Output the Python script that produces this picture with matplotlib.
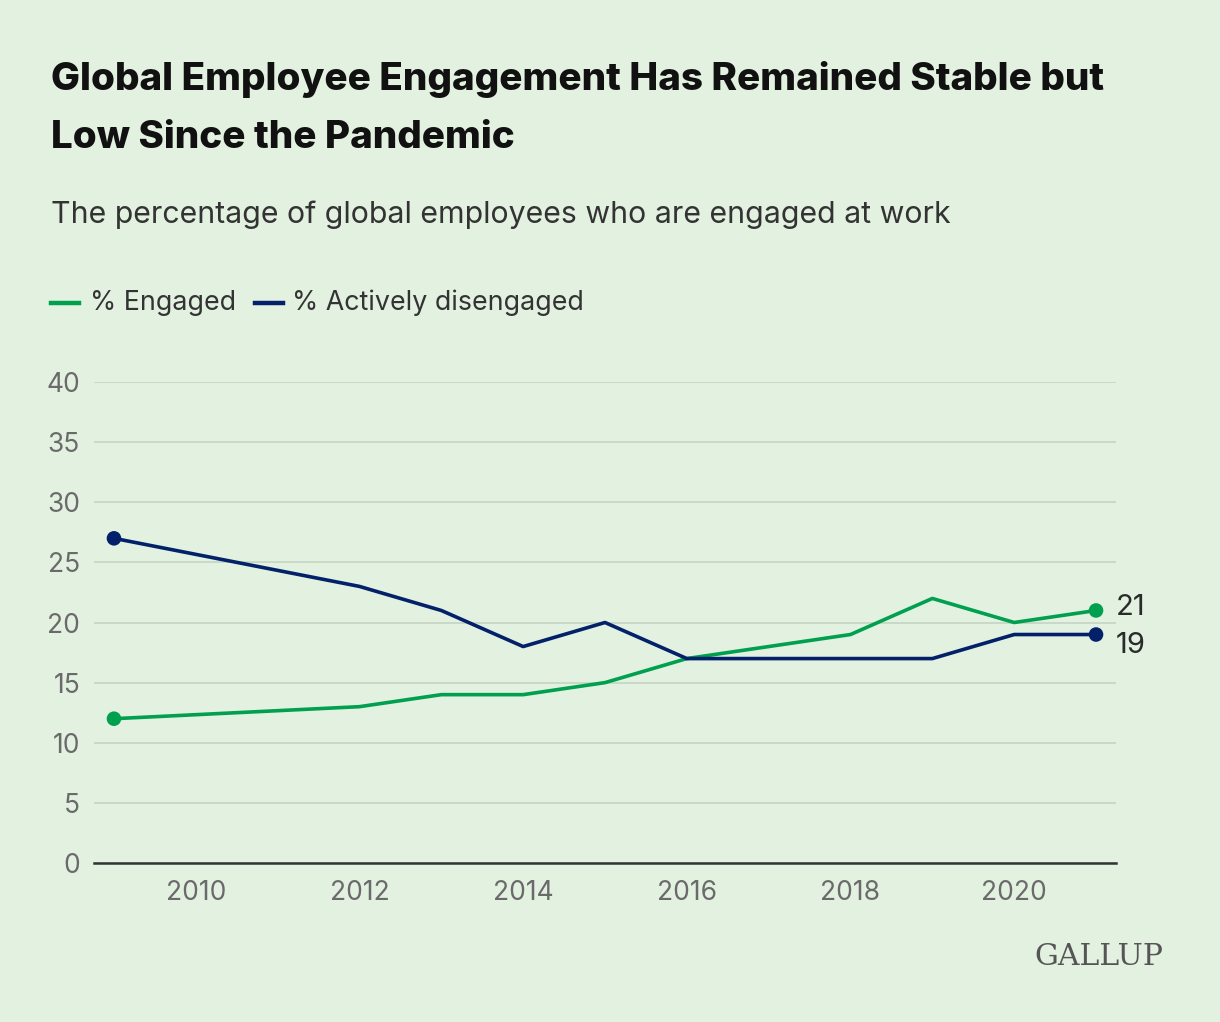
import matplotlib.pyplot as plt

years_engaged = [2009, 2012, 2013, 2014, 2015, 2016, 2018, 2019, 2020, 2021]
engaged = [12, 13, 14, 14, 15, 17, 19, 22, 20, 21]
years_disengaged = [2009, 2012, 2013, 2014, 2015, 2016, 2018, 2019, 2020, 2021]
disengaged = [27, 23, 21, 18, 20, 17, 17, 17, 19, 19]
y_ticks = [0, 5, 10, 15, 20, 25, 30, 35, 40]
x_ticks = [2010, 2012, 2014, 2016, 2018, 2020]

GREEN = "#00A04F"
NAVY = "#022169"
BG = "#E3F1E1"
GRID = "#C8D6C6"
TICK = "#6A6A6A"

plt.rcParams["font.family"] = ["Inter", "DejaVu Sans"]

fig = plt.figure(figsize=(12.2, 10.22), dpi=100, facecolor=BG)
ax = fig.add_axes([94 / 1220, 1 - 863 / 1022, (1116 - 94) / 1220, (863 - 382) / 1022])
ax.set_facecolor(BG)

ax.plot(years_engaged, engaged, color=GREEN, lw=2.6, zorder=3)
ax.plot(years_disengaged, disengaged, color=NAVY, lw=2.6, zorder=3)
# end-point markers
ax.scatter([years_engaged[0], years_engaged[-1]], [engaged[0], engaged[-1]],
           s=110, color=GREEN, zorder=4, edgecolor="none")
ax.scatter([years_disengaged[0], years_disengaged[-1]], [disengaged[0], disengaged[-1]],
           s=110, color=NAVY, zorder=4, edgecolor="none")

ax.annotate(str(engaged[-1]), (years_engaged[-1], engaged[-1]), xytext=(14, 2),
            textcoords="offset points", va="center", ha="left", fontsize=21, color="#2a2a2a")
ax.annotate(str(disengaged[-1]), (years_disengaged[-1], disengaged[-1]), xytext=(14, -8),
            textcoords="offset points", va="center", ha="left", fontsize=21, color="#2a2a2a")

ax.set_xlim(2008.756, 2021.244)
ax.set_ylim(0, 40)
ax.set_yticks(y_ticks)
ax.set_xticks(x_ticks)
ax.grid(axis="y", color=GRID, lw=1.3)
ax.set_axisbelow(True)
for s in ["top", "right", "left"]:
    ax.spines[s].set_visible(False)
ax.spines["bottom"].set_color("#333333")
ax.spines["bottom"].set_linewidth(1.8)
ax.spines["bottom"].set_zorder(5)
ax.tick_params(axis="both", length=0, labelsize=19, labelcolor=TICK)
ax.tick_params(axis="y", pad=10)
ax.tick_params(axis="x", pad=12)
for lbl in ax.get_yticklabels():
    lbl.set_horizontalalignment("right")

fig.text(51 / 1220, 1 - 80 / 1022, "Global Employee Engagement Has Remained Stable but",
         fontsize=27.8, fontweight=800, color="#111111", va="center")
fig.text(51 / 1220, 1 - 138 / 1022, "Low Since the Pandemic",
         fontsize=27.8, fontweight=800, color="#111111", va="center")
fig.text(51 / 1220, 1 - 215 / 1022, "The percentage of global employees who are engaged at work",
         fontsize=21.8, color="#333333", va="center")

# legend
leg_y = 1 - 303 / 1022
fig.add_artist(plt.Line2D([51 / 1220, 79 / 1220], [leg_y, leg_y], color=GREEN, lw=3.2,
                          transform=fig.transFigure))
fig.text(90 / 1220, leg_y, "% Engaged", fontsize=19.3, color="#333333", va="center")
fig.add_artist(plt.Line2D([255 / 1220, 283 / 1220], [leg_y, leg_y], color=NAVY, lw=3.2,
                          transform=fig.transFigure))
fig.text(292 / 1220, leg_y, "% Actively disengaged", fontsize=19.3, color="#333333", va="center")

fig.text(1163 / 1220, 1 - 957 / 1022, "GALLUP", fontsize=21.5, color="#555555",
         family=["DejaVu Serif"], ha="right", va="center")

fig.savefig("out.png", dpi=100, facecolor=BG)
